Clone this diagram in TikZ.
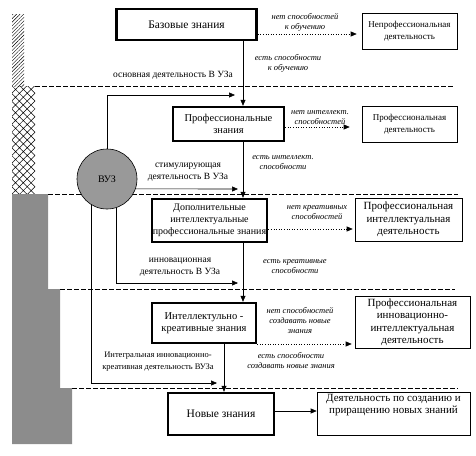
\documentclass[tikz,border=0pt]{standalone}
\usepackage{fontspec}
\setmainfont{Liberation Serif}
\usetikzlibrary{arrows.meta, patterns.meta}

\begin{document}
\begin{tikzpicture}[x=1pt, y=-1pt,
    know/.style = {draw, line width=2.4pt, fill=white, align=center, inner sep=1pt, font=\fontsize{10.5}{12}\selectfont},
    act/.style = {draw, line width=0.6pt, fill=white, align=center, inner sep=1pt, font=\fontsize{9}{11.5}\selectfont},
    actbig/.style = {act, font=\fontsize{11}{12.5}\selectfont},
    cond/.style = {align=center, inner sep=0pt, font=\fontsize{8.5}{10}\selectfont\itshape},
    flow/.style = {align=center, inner sep=0pt, font=\fontsize{9.5}{12}\selectfont},
    arr/.style = {-{Triangle[length=6pt, width=5pt]}, line width=0.6pt},
    dotarr/.style = {arr, dotted},
    sep/.style = {dash pattern=on 4.5pt off 2.5pt, line width=0.6pt} ]
  \useasboundingbox (0,0) rectangle (476,455);
  % left strip
  \fill[pattern={Lines[angle=45, distance=2.5pt, line width=0.4pt]}] (12,14) rectangle (24,86);
  \fill[pattern={Hatch[angle=45, distance=5.5pt, line width=0.5pt]}] (12,86) rectangle (35,194);
  \fill[black!45] (12,194) -- (48,194) -- (48,289) -- (60,289) -- (60,388) -- (72,388) -- (72,444) -- (12,444) -- cycle;
  % level separators
  \draw[sep] (35,86) -- (455,86);
  \draw[sep] (48,194) -- (458,194);
  \draw[sep] (60,289) -- (455,289);
  \draw[sep] (72,388) -- (458,388);

  % knowledge levels
  \node[know, minimum width=140, minimum height=31, font=\fontsize{11.5}{13}\selectfont] (base) at (186.5,24.5) {Базовые знания};
  \node[know, minimum width=111, minimum height=34] (prof) at (228.5,124) {Профессиональные\\знания};
  \node[know, minimum width=115, minimum height=43, font=\fontsize{10}{12}\selectfont] (addk) at (209.5,220.5) {Дополнительные\\интеллектуальные\\профессиональные знания};
  \node[know, minimum width=104, minimum height=40] (creat) at (204,323) {Интеллектульно -\\креативные знания};
  \node[know, minimum width=106, minimum height=42, font=\fontsize{11.5}{13}\selectfont] (newk) at (221,414) {Новые знания};

  % activities
  \node[act, minimum width=95, minimum height=36] (nonprof) at (409.5,31) {Непрофессиональная\\деятельность};
  \node[act, minimum width=95, minimum height=36] (profact) at (409.5,124) {Профессиональная\\деятельность};
  \node[actbig, minimum width=107, minimum height=43] (intact) at (408.5,219.5) {Профессиональная\\интеллектуальная\\деятельность};
  \node[actbig, minimum width=115, minimum height=52] (innact) at (412.5,322) {Профессиональная\\инновационно-\\интеллектуальная\\деятельность};
  \node[actbig, minimum width=153, minimum height=43,
    label={[anchor=north, align=center, inner sep=2pt, font=\fontsize{11}{12.5}\selectfont]north:{Деятельность по созданию и\\приращению новых знаний}}] (newact) at (393.5,413.5) {};

  % university
  \node[circle, draw, line width=0.6pt, fill=black!40, minimum size=60, inner sep=0pt, font=\fontsize{10}{12}\selectfont] (vuz) at (107,179) {ВУЗ};

  \coordinate (sp) at (243,0);
  \coordinate (sp2) at (224,0);
  \coordinate (bas) at (235,95);
  \coordinate (stim) at (238,189);
  \coordinate (inn) at (238,283);
  \coordinate (intg) at (217,383);

  % main chain
  \draw[arr] (base.south -| sp) -- (prof.north -| sp);
  \draw[arr] (prof.south -| sp) -- (addk.north -| sp);
  \draw[arr] (addk.south -| sp) -- (creat.north -| sp);
  \draw[arr] (creat.south -| sp2) -- (newk.north -| sp2);
  \node[cond] at (288,63) {есть способности\\к обучению};
  \node[cond] at (283,163) {есть интеллект.\\способности};
  \node[cond] at (295,267) {есть креативные\\способности};
  \node[cond] at (291,361) {есть способности\\создавать новые знания};

  % exits
  \draw[dotarr] (base.east |- 0,34) -- ([xshift=-5pt]nonprof.west |- 0,34);
  \draw[dotarr] (prof.east |- 0,127) -- ([xshift=-12pt]profact.west |- 0,127);
  \draw[dotarr] (addk.east |- 0,229) -- ([xshift=-2pt]intact.west |- 0,229);
  \draw[dotarr] (creat.east |- 0,344) -- ([xshift=-3pt]innact.west |- 0,344);
  \draw[arr] (newk.east |- 0,411) -- (newact.west |- 0,411);
  \node[cond] at (305,22) {нет способностей\\к обучению};
  \node[cond] at (320,118) {нет интеллект.\\способностей};
  \node[cond] at (317,213) {нет креативных\\способностей};
  \node[cond] at (300,321) {нет способностей\\создавать новые\\знания};

  % activities of the university
  \draw[arr] (vuz.north) |- (bas);
  \draw[arr] (vuz.-19.5) -- (stim);
  \draw[arr] (vuz.-72.5) |- (inn);
  \draw[arr] (vuz.-122.2) |- (intg);
  \node[flow] at (173,75) {основная деятельность В УЗа};
  \node[flow] at (188,172) {стимулирующая\\деятельность В УЗа};
  \node[flow] at (180,267) {инновационная\\деятельность В УЗа};
  \node[flow, font=\fontsize{8.5}{12}\selectfont] at (158,362) {Интегральная инновационно-\\креативная деятельность ВУЗа};
\end{tikzpicture}
\end{document}
